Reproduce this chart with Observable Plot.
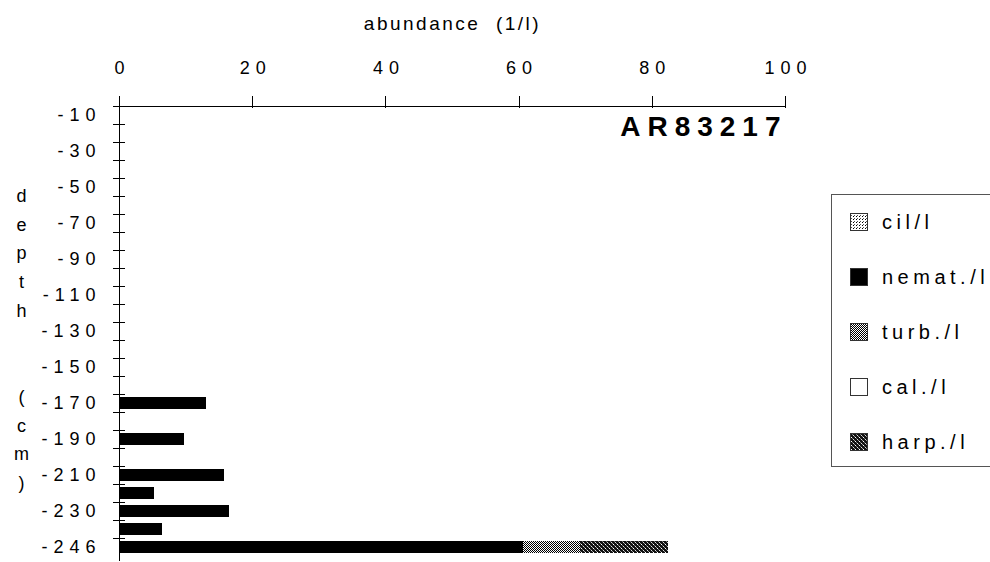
<!DOCTYPE html>
<html><head><meta charset="utf-8">
<script src="https://cdn.jsdelivr.net/npm/d3@7"></script>
<script src="https://cdn.jsdelivr.net/npm/@observablehq/plot@0.6"></script>
<style>
body{margin:0;background:#fff;}
#wrap{position:relative;width:990px;height:562px;overflow:hidden;font-family:"Liberation Sans",Arial,sans-serif;color:#000;}
#wrap svg text{fill:#000;}
#wrap svg g[aria-label="y-axis tick label"] text{letter-spacing:6px;}
#wrap svg g[aria-label="x-axis tick label"] text{letter-spacing:6px;}
#wrap svg g[aria-label="x-axis label"] text{letter-spacing:2.5px;font-size:19px;}
.stamp text{letter-spacing:7px;}
.depthlab text{letter-spacing:0;}
#legend{position:absolute;left:831px;top:194px;width:200px;height:273px;border:1px solid #555;box-sizing:border-box;}
#legend .row{position:absolute;left:18px;height:20px;display:flex;align-items:center;}
#legend .row span{font-size:20px;letter-spacing:4.5px;margin-left:14px;white-space:nowrap;}
</style></head><body><div id="wrap"></div>
<script>
// ---- data ----
const depths = ["-10","-20","-30","-40","-50","-60","-70","-80","-90","-100","-110","-120","-130","-140","-150","-160","-170","-180","-190","-200","-210","-220","-230","-240","-246"];
const depthLabels = ["-10","-30","-50","-70","-90","-110","-130","-150","-170","-190","-210","-230","-246"];
const series = ["cil/l","nemat./l","turb./l","cal./l","harp./l"];
const cil   = [0,0,0,0,0,0,0,0,0,0,0,0,0,0,0,0,0,0,0,0,0,0,0,0,0];
const nemat = [0,0,0,0,0,0,0,0,0,0,0,0,0,0,0,0,13.0,0,9.8,0,15.7,5.2,16.5,6.5,60.6];
const turb  = [0,0,0,0,0,0,0,0,0,0,0,0,0,0,0,0,0,0,0,0,0,0,0,0,8.6];
const cal   = [0,0,0,0,0,0,0,0,0,0,0,0,0,0,0,0,0,0,0,0,0,0,0,0,0];
const harp  = [0,0,0,0,0,0,0,0,0,0,0,0,0,0,0,0,0,0,0,0,0,0,0,0,13.2];
const xTicks = [0,20,40,60,80,100];
const stationName = "AR83217";
const xTitle = "abundance  (1/l)";
const yTitle = "d\ne\np\nt\nh\n\n\n(\nc\nm\n)";

const values = [cil, nemat, turb, cal, harp];
const data = [];
depths.forEach((d, i) => series.forEach((s, k) => {
  if (values[k][i] > 0) data.push({depth: d, series: s, value: values[k][i]});
}));
const fills = ["url(#p-cil)","#000","url(#p-turb)","#fff","url(#p-harp)"];

const W = 990, H = 562, mT = 101, mB = 1, mL = 119, mR = 205;
const step = (H - mT - mB) / depths.length;

const chart = Plot.plot({
  width: W, height: H,
  marginTop: mT, marginBottom: mB, marginLeft: mL, marginRight: mR,
  style: {fontFamily: '"Liberation Sans", Arial, sans-serif', fontSize: "18px", background: "#fff", color: "#000"},
  x: {domain: [0, 100], axis: null},
  y: {domain: depths, padding: 0.32, axis: null},
  color: {domain: series, range: fills},
  marks: [
    Plot.barX(data, Plot.stackX({y: "depth", x: "value", fill: "series", order: series})),
    // axis lines
    Plot.ruleX([0], {stroke: "#000", strokeWidth: 1.2}),
    Plot.ruleY([depths[0]], {x1: 0, x2: 100, dy: -step/2, stroke: "#000", strokeWidth: 1.2}),
    // x axis (top)
    Plot.axisX(xTicks, {anchor: "top", tickSize: 12, dy: 6, tickFormat: () => "", label: null, stroke: "#000"}),
    Plot.axisX(xTicks, {anchor: "top", tickSize: 0, tickPadding: 28, fontSize: 18, dx: 3, label: xTitle, labelAnchor: "center", labelOffset: 85, labelArrow: false}),
    // y axis
    Plot.axisY(depths, {anchor: "left", tickSize: 12, dx: 6, dy: -step/2, tickFormat: () => "", label: null, stroke: "#000"}),
    Plot.axisY(depthLabels, {anchor: "left", tickSize: 0, tickPadding: 18, fontSize: 18, label: null}),
    // station label
    Plot.text([stationName], {frameAnchor: "top-right", dx: 2, dy: 26, fontSize: 28, fontWeight: "bold", textAnchor: "end", lineAnchor: "middle", className: "stamp"}),
    // vertical depth title
    Plot.text([yTitle], {frameAnchor: "top-left", dx: -98, dy: 80, fontSize: 18, lineHeight: 1.595, lineAnchor: "top", textAnchor: "middle", className: "depthlab"})
  ]
});

// patterns
const ns = "http://www.w3.org/2000/svg";
const defs = document.createElementNS(ns, "defs");
defs.innerHTML = `
<pattern id="p-cil" width="3" height="3" patternUnits="userSpaceOnUse">
  <rect width="3" height="3" fill="#fff"/><rect width="1" height="1" fill="#000"/><rect x="1" y="2" width="1" height="1" fill="#555"/>
</pattern>
<pattern id="p-turb" width="2" height="2" patternUnits="userSpaceOnUse">
  <rect width="2" height="2" fill="#fff"/><rect width="1" height="1" fill="#000"/><rect x="1" y="1" width="1" height="1" fill="#000"/>
</pattern>
<pattern id="p-harp" width="4" height="4" patternUnits="userSpaceOnUse">
  <rect width="4" height="4" fill="#111"/><rect x="1" y="0" width="1" height="1" fill="#fff"/><rect x="3" y="2" width="1" height="1" fill="#ddd"/><rect x="0" y="3" width="1" height="1" fill="#999"/><rect x="2" y="1" width="1" height="1" fill="#777"/>
</pattern>`;
chart.insertBefore(defs, chart.firstChild);
chart.setAttribute("shape-rendering", "crispEdges");
document.getElementById("wrap").appendChild(chart);

// legend
const leg = document.createElement("div");
leg.id = "legend";
series.forEach((s, k) => {
  const row = document.createElement("div");
  row.className = "row";
  row.style.top = (27 + k * 55 - 10) + "px";
  row.innerHTML = `<svg width="18" height="18"><rect x="0.5" y="0.5" width="17" height="17" fill="${fills[k]}" stroke="#333" stroke-width="1"/></svg><span>${s}</span>`;
  leg.appendChild(row);
});
document.getElementById("wrap").appendChild(leg);
</script>
</body></html>
